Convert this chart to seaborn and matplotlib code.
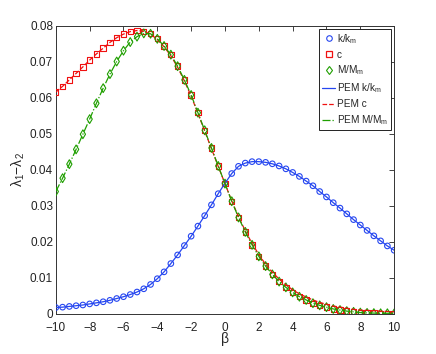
import numpy as np
import matplotlib
matplotlib.use('Agg')
import matplotlib.pyplot as plt
import seaborn as sns
from matplotlib.lines import Line2D

# beta grid (51 samples, step 0.4)
beta = np.linspace(-10, 10, 51)

# k/k_m
kk = [0.0018, 0.0019, 0.0021, 0.0023, 0.0025, 0.0028, 0.0031, 0.0034, 0.0038, 0.0043,
      0.0048, 0.0054, 0.0061, 0.0070, 0.0082, 0.0098, 0.0117, 0.0140, 0.0164, 0.0190,
      0.0216, 0.0244, 0.0273, 0.0303, 0.0334, 0.0363, 0.0390, 0.0410, 0.0419, 0.0423,
      0.0423, 0.0421, 0.0417, 0.0411, 0.0403, 0.0393, 0.0382, 0.0369, 0.0356, 0.0340,
      0.0325, 0.0309, 0.0294, 0.0278, 0.0262, 0.0247, 0.0232, 0.0217, 0.0203, 0.0189,
      0.0177]

# c
cc = [0.0616, 0.0632, 0.0650, 0.0668, 0.0686, 0.0705, 0.0722, 0.0738, 0.0754, 0.0767,
      0.0777, 0.0784, 0.0787, 0.0785, 0.0778, 0.0764, 0.0744, 0.0720, 0.0688, 0.0650,
      0.0608, 0.0559, 0.0510, 0.0461, 0.0411, 0.0362, 0.0313, 0.0268, 0.0228, 0.0192,
      0.0160, 0.0133, 0.0110, 0.0090, 0.0074, 0.0060, 0.0048, 0.0039, 0.0030, 0.0024,
      0.0019, 0.0014, 0.0011, 0.0008, 0.0006, 0.0004, 0.0003, 0.00025, 0.0002, 0.0002,
      0.00015]

# M/M_m
mm = [0.0340, 0.0377, 0.0416, 0.0457, 0.0499, 0.0541, 0.0585, 0.0627, 0.0666, 0.0701,
      0.0731, 0.0755, 0.0770, 0.0779, 0.0778, 0.0764, 0.0744, 0.0720, 0.0688, 0.0650,
      0.0608, 0.0559, 0.0510, 0.0461, 0.0411, 0.0362, 0.0313, 0.0268, 0.0228, 0.0192,
      0.0160, 0.0133, 0.0110, 0.0090, 0.0074, 0.0060, 0.0048, 0.0039, 0.0030, 0.0024,
      0.0019, 0.0014, 0.0011, 0.0008, 0.0006, 0.0004, 0.0003, 0.00025, 0.0002, 0.0002,
      0.00015]

# PEM c (sits a little above the markers in the right tail)
pem_c = [0.0616, 0.0632, 0.0650, 0.0668, 0.0686, 0.0705, 0.0722, 0.0738, 0.0754, 0.0767,
         0.0777, 0.0784, 0.0787, 0.0785, 0.0777, 0.0762, 0.0742, 0.0717, 0.0685, 0.0647,
         0.0605, 0.0557, 0.0508, 0.0459, 0.0410, 0.0362, 0.0314, 0.0270, 0.0231, 0.0196,
         0.0165, 0.0138, 0.0116, 0.0097, 0.0081, 0.0067, 0.0056, 0.0047, 0.0039, 0.0032,
         0.0027, 0.0022, 0.0019, 0.0016, 0.0013, 0.0011, 0.0010, 0.0009, 0.0008, 0.0007,
         0.0006]

xticks = [-10, -8, -6, -4, -2, 0, 2, 4, 6, 8, 10]
yticks = [0, 0.01, 0.02, 0.03, 0.04, 0.05, 0.06, 0.07, 0.08]
ytick_labels = ['0', '0.01', '0.02', '0.03', '0.04', '0.05', '0.06', '0.07', '0.08']

blue = '#2546f0'
red = '#f01010'
green = '#1f9f00'

sns.set_style('white')
plt.rcParams['font.family'] = ['Liberation Sans', 'DejaVu Sans']
plt.rcParams['mathtext.fontset'] = 'custom'
plt.rcParams['mathtext.rm'] = 'Liberation Sans'
plt.rcParams['mathtext.it'] = 'Liberation Sans'

fig = plt.figure(figsize=(4.36, 3.54), dpi=100)
ax = fig.add_axes([0.128, 0.113, 0.776, 0.814])

# markers (data)
sns.scatterplot(x=beta, y=kk, marker='o', s=16, facecolor='none', edgecolor=blue,
                linewidth=0.8, ax=ax, zorder=3)
sns.scatterplot(x=beta, y=cc, marker='s', s=15, facecolor='none', edgecolor=red,
                linewidth=0.8, ax=ax, zorder=3)
sns.scatterplot(x=beta, y=mm, marker='d', s=20, facecolor='none', edgecolor=green,
                linewidth=0.8, ax=ax, zorder=4)

# PEM curves
sns.lineplot(x=beta, y=kk, color=blue, linewidth=0.9, ax=ax, zorder=5)
sns.lineplot(x=beta, y=pem_c, color=red, linewidth=0.9, linestyle='--', ax=ax, zorder=5)
sns.lineplot(x=beta, y=mm, color=green, linewidth=0.9, linestyle='-.', ax=ax, zorder=5)

ax.set_xlim(-10, 10)
ax.set_ylim(0, 0.08)
ax.set_xticks(xticks)
ax.set_yticks(yticks)
ax.set_yticklabels(ytick_labels)
ax.tick_params(direction='in', length=3.5, width=0.6, labelsize=8.5, colors='#222222',
               top=True, right=True, pad=2)
ax.tick_params(axis='x', pad=5.5)
for sp in ax.spines.values():
    sp.set_color('#333333')
    sp.set_linewidth(0.7)

ax.set_xlabel('β', fontsize=10, labelpad=-1)
ax.set_ylabel('λ$_1$−λ$_2$', fontsize=10, labelpad=2)

handles = [
    Line2D([], [], linestyle='none', marker='o', markersize=4, markerfacecolor='none',
           markeredgecolor=blue, markeredgewidth=0.8),
    Line2D([], [], linestyle='none', marker='s', markersize=4, markerfacecolor='none',
           markeredgecolor=red, markeredgewidth=0.9),
    Line2D([], [], linestyle='none', marker='d', markersize=4.5, markerfacecolor='none',
           markeredgecolor=green, markeredgewidth=0.8),
    Line2D([], [], color=blue, linewidth=0.9),
    Line2D([], [], color=red, linewidth=0.9, linestyle='--'),
    Line2D([], [], color=green, linewidth=0.9, linestyle='-.'),
]
labels = ['k/k$_m$', 'c', 'M/M$_m$', 'PEM k/k$_m$', 'PEM c', 'PEM M/M$_m$']
leg = ax.legend(handles, labels, loc='upper right', fontsize=7.2, frameon=True,
                fancybox=False, framealpha=1, edgecolor='#222222', handlelength=1.3,
                handletextpad=0.15, borderpad=0.3, labelspacing=0.4,
                borderaxespad=0.3)
leg.get_frame().set_linewidth(0.7)

fig.savefig('out.png', dpi=100)
